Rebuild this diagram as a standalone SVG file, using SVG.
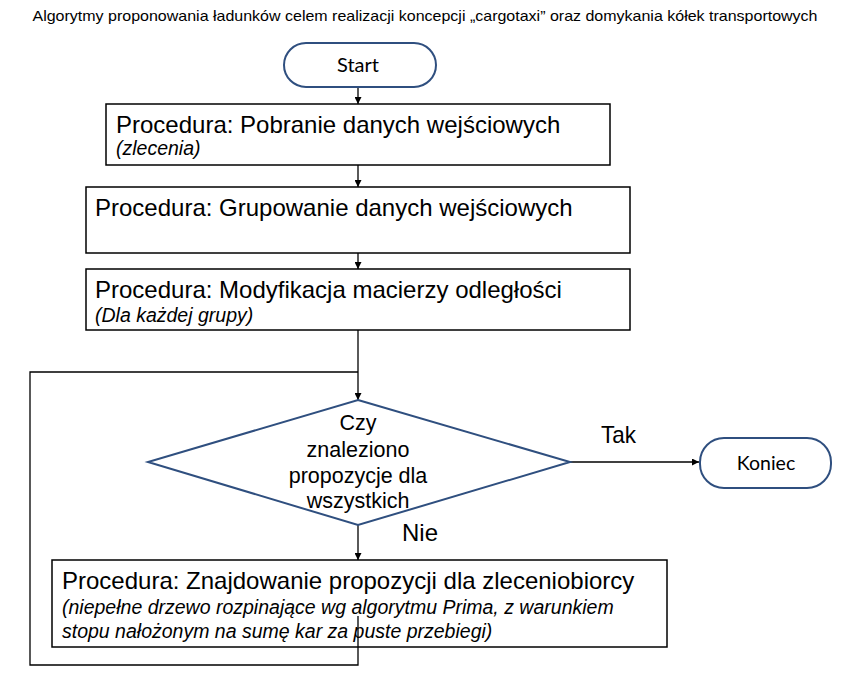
<svg xmlns="http://www.w3.org/2000/svg" width="850" height="680" viewBox="0 0 850 680">
<defs>
<style>
.box{fill:#fff;stroke:#000;stroke-width:1.5}
.term{fill:#fff;stroke:#2F4F7F;stroke-width:2}
.dia{fill:#fff;stroke:#2F4F7F;stroke-width:2}
.conn{fill:none;stroke:#000;stroke-width:1.3}
.t{font-family:"Liberation Sans",Arial,sans-serif;fill:#000}
.c{font-family:Lato,"Open Sans",sans-serif;fill:#000}
.big{font-size:24px}
.it{font-size:19.5px;font-style:italic}
.dt{font-size:21.5px;text-anchor:middle}
</style>
<marker id="ah" viewBox="0 0 10 10" refX="10" refY="5" markerWidth="7" markerHeight="7" orient="auto" markerUnits="userSpaceOnUse">
<path d="M0,0 L10,5 L0,10 z" fill="#000"/>
</marker>
</defs>
<rect width="850" height="680" fill="#fff"/>
<text class="t" x="425" y="21" font-size="15" text-anchor="middle" textLength="785" lengthAdjust="spacingAndGlyphs">Algorytmy proponowania ładunków celem realizacji koncepcji „cargotaxi” oraz domykania kółek transportowych</text>

<g id="connectors">
<line class="conn" x1="358" y1="88" x2="358" y2="104" marker-end="url(#ah)"/>
<line class="conn" x1="358" y1="165" x2="358" y2="187" marker-end="url(#ah)"/>
<line class="conn" x1="358" y1="253" x2="358" y2="269" marker-end="url(#ah)"/>
<line class="conn" x1="358" y1="330" x2="358" y2="400" marker-end="url(#ah)"/>
<line class="conn" x1="570" y1="462" x2="699" y2="462" marker-end="url(#ah)"/>
<line class="conn" x1="358" y1="525" x2="358" y2="560" marker-end="url(#ah)"/>
</g>

<g id="start">
<rect class="term" x="284" y="43" width="152" height="44" rx="22" ry="22"/>
<text class="c" x="358" y="72" font-size="20" text-anchor="middle">Start</text>
</g>

<g id="pobranie">
<rect class="box" x="106" y="104" width="504" height="61"/>
<text class="t big" x="116" y="133">Procedura: Pobranie danych wejściowych</text>
<text class="t it" x="116" y="155">(zlecenia)</text>
</g>

<g id="grupowanie">
<rect class="box" x="86" y="187" width="544" height="66"/>
<text class="t big" x="95" y="216">Procedura: Grupowanie danych wejściowych</text>
</g>

<g id="modyfikacja">
<rect class="box" x="86" y="269" width="544" height="61"/>
<text class="t big" x="95" y="298">Procedura: Modyfikacja macierzy odległości</text>
<text class="t it" x="95" y="322">(Dla każdej grupy)</text>
</g>

<g id="decyzja">
<polygon class="dia" points="358,400 570,462 358,525 148,462"/>
<text class="t dt" x="358" y="430">Czy</text>
<text class="t dt" x="358" y="457">znaleziono</text>
<text class="t dt" x="358" y="483">propozycje dla</text>
<text class="t dt" x="358" y="508">wszystkich</text>
</g>

<g id="koniec">
<rect class="term" x="700" y="438" width="131" height="50" rx="24" ry="24"/>
<text class="c" x="766" y="470" font-size="19.5" text-anchor="middle">Koniec</text>
</g>

<g id="labels">
<text class="t" x="601" y="443" font-size="24" textLength="35" lengthAdjust="spacingAndGlyphs">Tak</text>
<text class="t" x="402" y="541" font-size="24" textLength="36" lengthAdjust="spacingAndGlyphs">Nie</text>
</g>

<g id="znajdowanie">
<rect class="box" x="52" y="560" width="615" height="87"/>
<text class="t big" x="62" y="589">Procedura: Znajdowanie propozycji dla zleceniobiorcy</text>
<text class="t it" x="62" y="614">(niepełne drzewo rozpinające wg algorytmu Prima, z warunkiem</text>
<text class="t it" x="62" y="638">stopu nałożonym na sumę kar za puste przebiegi)</text>
</g>

<g id="loop">
<polyline class="conn" points="358,616 358,665 30,665 30,372 358,372"/>
</g>
</svg>
